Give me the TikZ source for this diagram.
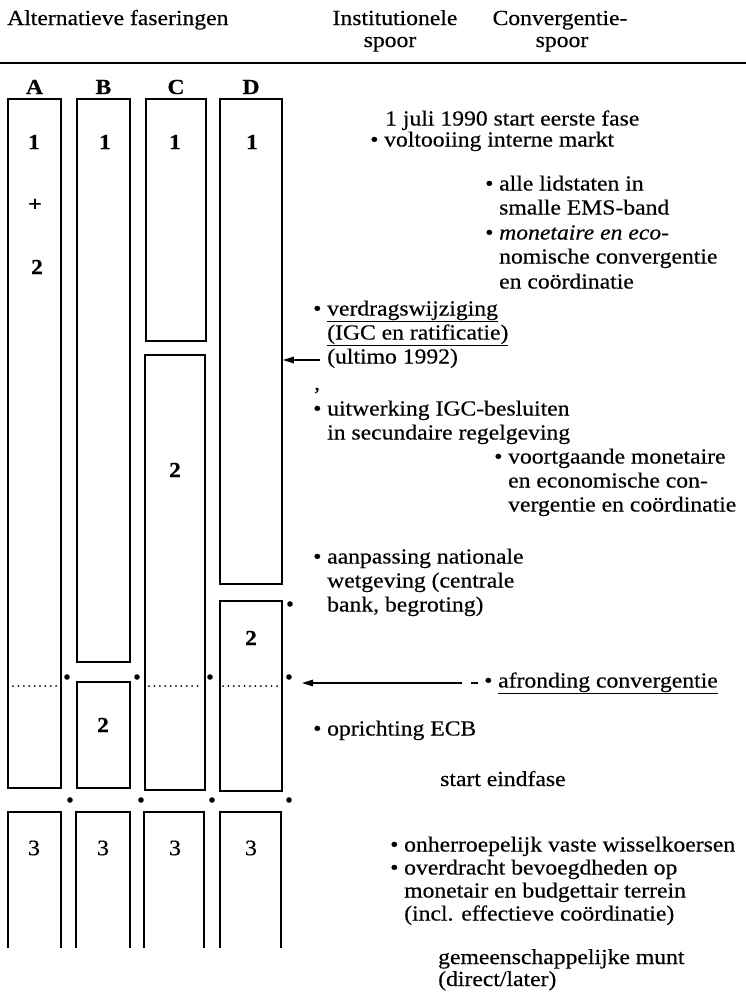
\documentclass[tikz,border=0pt]{standalone}
\usepackage{fontspec}
\setmainfont{Liberation Serif}[FakeStretch=1.1,FakeBold=0.35]
\usetikzlibrary{arrows.meta}
\newcommand\bul{\makebox[14pt][l]{•}}
\newcommand\ind{\hspace*{14pt}}
\begin{document}
\begin{tikzpicture}[x=1pt,y=-1pt,
  every node/.style={font=\fontsize{21.5}{24}\selectfont},
  txt/.style={anchor=base west, inner sep=0pt},
  ctr/.style={anchor=base, inner sep=0pt},
  colbox/.style={draw, line width=1.8pt, inner sep=0pt},
  num/.style={anchor=center, inner sep=0pt, font=\fontsize{21.5}{24}\selectfont\bfseries},
  numthree/.style={anchor=center, inner sep=0pt, font=\fontsize{22}{24}\selectfont},
  openbox/.style={line width=1.8pt},
  dotline/.style={line width=2pt, line cap=round, dash pattern=on 0pt off 5.4pt},
  blob/.style={circle, fill, inner sep=0pt, minimum size=5.6pt},
  arr/.style={line width=1.4pt, -{Triangle[length=11pt,width=6.5pt]}}
]
\useasboundingbox (0,0) rectangle (746,993);

% header
\node[txt] (h1) at (7,25) {Alternatieve faseringen};
\node[ctr] (h2) at (395,25) {Institutionele};
\node[ctr] (h3) at (390,47) {spoor};
\node[ctr] (h4) at (560,25) {Convergentie-};
\node[ctr] (h5) at (562,47) {spoor};
\draw[line width=1.3pt] (0,63) -- (746,63);

% column letters
\node[num] (lA) at (34.5,87) {A};
\node[num] (lB) at (103.5,87) {B};
\node[num] (lC) at (176,87) {C};
\node[num] (lD) at (251,87) {D};

% boxes
\node[colbox, minimum width=53pt, minimum height=689pt] (Aup) at (34.5,443.5) {};
\node[colbox, minimum width=53pt, minimum height=563pt] (Bup) at (103.5,380.5) {};
\node[colbox, minimum width=53pt, minimum height=106pt] (Blo) at (103.5,735) {};
\node[colbox, minimum width=60pt, minimum height=242pt] (Cup) at (176,220) {};
\node[colbox, minimum width=60pt, minimum height=435pt] (Clo) at (175,572.5) {};
\node[colbox, minimum width=62pt, minimum height=485pt] (Dup) at (251,341.5) {};
\node[colbox, minimum width=62pt, minimum height=190pt] (Dlo) at (251,696) {};

% open boxes phase 3
\draw[openbox] (8,948) -- (8,812) -- (61,812) -- (61,948);
\draw[openbox] (76,948) -- (76,812) -- (130,812) -- (130,948);
\draw[openbox] (144,948) -- (144,812) -- (204,812) -- (204,948);
\draw[openbox] (220,948) -- (220,812) -- (281,812) -- (281,948);

% numbers in boxes
\node[num] (nA1) at (34,142) {1};
\node[num] (nB1) at (105,142) {1};
\node[num] (nC1) at (175,142) {1};
\node[num] (nD1) at (252,142) {1};
\node[num] (nAp) at (35,205) {+};
\node[num] (nA2) at (37,267) {2};
\node[num] (nC2) at (175,470) {2};
\node[num] (nD2) at (251,638) {2};
\node[num] (nB2) at (103,725) {2};
\node[numthree] (nA3) at (34,848) {3};
\node[numthree] (nB3) at (103,848) {3};
\node[numthree] (nC3) at (175,848) {3};
\node[numthree] (nD3) at (251,848) {3};

% dotted lines
\draw[dotline] (13,686) -- (57,686);
\draw[dotline] (149,686) -- (200,686);
\draw[dotline] (223,686) -- (279,686);

% blobs
\node[blob] (b1) at (67,677) {};
\node[blob] (b2) at (137,677) {};
\node[blob] (b3) at (210,677) {};
\node[blob] (b4) at (289,677) {};
\node[blob] (b5) at (290,604) {};
\node[blob] (b6) at (70,800) {};
\node[blob] (b7) at (141,800) {};
\node[blob] (b8) at (212,800) {};
\node[blob] (b9) at (289,800) {};

% texts
\node[txt] (t1) at (385,125.5) {1 juli 1990 start eerste fase};
\node[txt] (t2) at (370,146.5) {\bul voltooiing interne markt};
\node[txt] (t3) at (485,190.5) {\bul alle lidstaten in};
\node[txt] (t4) at (485,214.5) {\ind smalle EMS-band};
\node[txt] (t5) at (485,239.5) {\bul \textit{monetaire en eco-}};
\node[txt] (t6) at (485,263.5) {\ind nomische convergentie};
\node[txt] (t7) at (485,288.5) {\ind en coördinatie};
\node[txt] (t8) at (313,315.5) {\bul \underline{verdragswijziging}};
\node[txt] (t9) at (313,339.5) {\ind \underline{(IGC en ratificatie)}};
\node[txt] (t10) at (313,363.5) {\ind (ultimo 1992)};
\node[txt] (t11) at (314,390) {,};
\node[txt] (t12) at (313,415.5) {\bul uitwerking IGC-besluiten};
\node[txt] (t13) at (313,439.5) {\ind in secundaire regelgeving};
\node[txt] (t14) at (494,463.5) {\bul voortgaande monetaire};
\node[txt] (t15) at (494,487.5) {\ind en economische con-};
\node[txt] (t16) at (494,511.5) {\ind vergentie en coördinatie};
\node[txt] (t17) at (313,563.5) {\bul aanpassing nationale};
\node[txt] (t18) at (313,587.5) {\ind wetgeving (centrale};
\node[txt] (t19) at (313,611.5) {\ind bank, begroting)};
\node[txt] (t20) at (484,687.5) {\bul \underline{afronding convergentie}};
\node[txt] (t21) at (313,735.5) {\bul oprichting ECB};
\node[txt] (t22) at (440,786) {start eindfase};
\node[txt] (t23) at (390,851.5) {\bul onherroepelijk vaste wisselkoersen};
\node[txt] (t24) at (390,874.5) {\bul overdracht bevoegdheden op};
\node[txt] (t25) at (390,897.5) {\ind monetair en budgettair terrein};
\node[txt] (t26) at (390,920.5) {\ind (incl. effectieve coördinatie)};
\node[txt] (t27) at (438,964) {gemeenschappelijke munt};
\node[txt] (t28) at (438,986) {(direct/later)};

% arrows
\coordinate (a1s) at (320,360);
\draw[arr] (a1s) -- (Dup.east |- a1s);
\coordinate (a2s) at (462,683);
\coordinate (a2e) at (302,683);
\draw[arr] (a2s) -- (a2e);
\coordinate (a3s) at (471,683);
\coordinate (a3e) at (478,683);
\draw[line width=1.2pt] (a3s) -- (a3e);
\end{tikzpicture}
\end{document}
